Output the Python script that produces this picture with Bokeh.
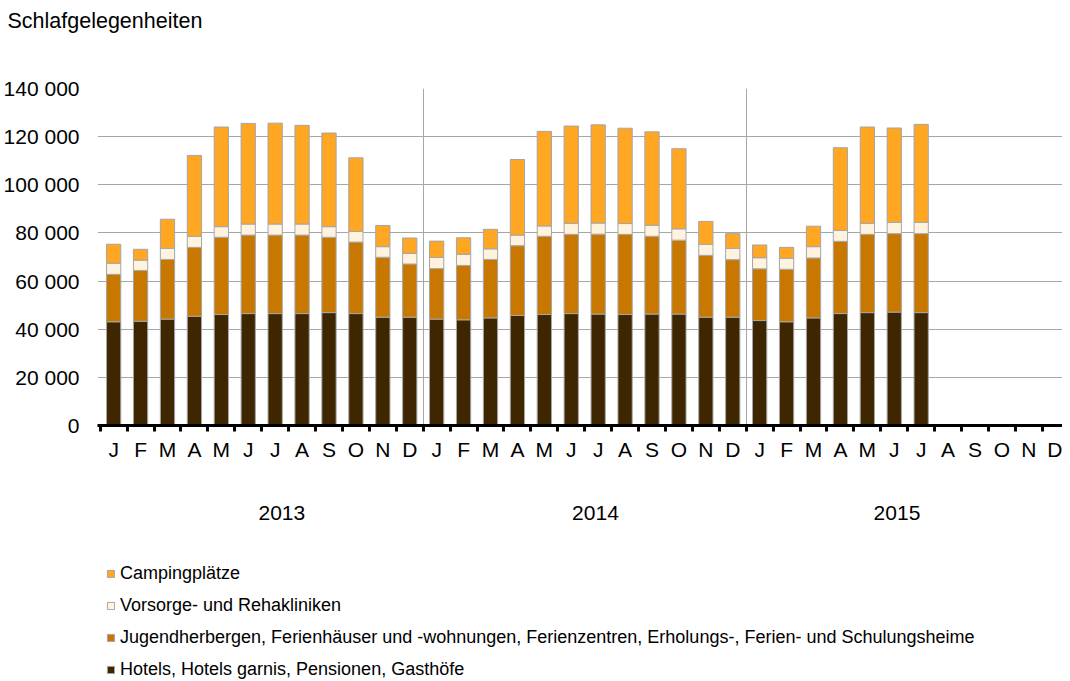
from bokeh.plotting import figure
from bokeh.layouts import column
from bokeh.models import (ColumnDataSource, Range1d, FixedTicker, LinearAxis,
                          Legend, LegendItem)
from bokeh.embed import file_html
from bokeh.resources import INLINE

# ---------------- data ----------------
months = ["J", "F", "M", "A", "M", "J", "J", "A", "S", "O", "N", "D"]
years = ["2013", "2014", "2015"]

hotels = [43100, 43300, 44200, 45400, 46100, 46500, 46500, 46500, 46900, 46500, 45000, 45000,
          44200, 43900, 44700, 45700, 46100, 46500, 46300, 46100, 46300, 46300, 45000, 45000,
          43600, 43100, 44700, 46500, 46900, 47100, 46900]
jugend = [19700, 21100, 24800, 28600, 32100, 32600, 32600, 32600, 31300, 29700, 24900, 22100,
          21000, 22600, 24300, 29000, 32500, 32900, 33200, 33300, 32300, 30700, 25700, 23900,
          21500, 21800, 24900, 30000, 32500, 32600, 32800]
vorsorge = [4600, 4300, 4600, 4600, 4400, 4600, 4600, 4600, 4400, 4400, 4400, 4400,
            4600, 4600, 4400, 4400, 4300, 4600, 4600, 4500, 4600, 4700, 4500, 4700,
            4600, 4600, 4700, 4500, 4600, 4700, 4700]
camping = [7900, 4500, 12100, 33600, 41400, 41800, 41900, 41000, 38900, 30600, 8800, 6400,
           6800, 6900, 8100, 31400, 39300, 40400, 40800, 39600, 38800, 33300, 9600, 6100,
           5300, 4500, 8500, 34400, 40000, 39200, 40700]

series_keys = ["hotels", "jugend", "vorsorge", "camping"]
series_names = ["Hotels, Hotels garnis, Pensionen, Gasthöfe",
                "Jugendherbergen, Ferienhäuser und -wohnungen, Ferienzentren, Erholungs-, Ferien- und Schulungsheime",
                "Vorsorge- und Rehakliniken",
                "Campingplätze"]
series_colors = ["#3e2600", "#c87800", "#fff3e0", "#ffa622"]

y_ticks = [0, 20000, 40000, 60000, 80000, 100000, 120000, 140000]
y_tick_labels = ["0", "20 000", "40 000", "60 000", "80 000", "100 000", "120 000", "140 000"]

title_text = "Schlafgelegenheiten"

FONT = "Liberation Sans"

# ---------------- title strip ----------------
p0 = figure(width=1062, height=44, x_range=Range1d(0, 1), y_range=Range1d(0, 1),
            output_backend="svg", toolbar_location=None,
            x_axis_location=None, y_axis_location=None,
            min_border_left=90, min_border_right=0, min_border_top=38, min_border_bottom=0)
p0.outline_line_color = None
p0.grid.visible = False
p0.title.text = title_text
p0.title.align = "left"
p0.title.offset = -90
p0.title.standoff = 12
p0.title.text_font = FONT
p0.title.text_font_size = "21.5px"
p0.title.text_font_style = "normal"
p0.title.text_color = "black"

# ---------------- main figure ----------------
n_months = len(months)
n_slots = n_months * len(years)
xs = list(range(len(hotels)))
source = ColumnDataSource(dict(x=xs, hotels=hotels, jugend=jugend,
                               vorsorge=vorsorge, camping=camping))

p = figure(width=1062, height=496,
           x_range=Range1d(-0.6, 35.25), y_range=Range1d(0, 140000),
           output_backend="svg", toolbar_location=None,
           min_border_left=90, min_border_top=44, min_border_right=0, min_border_bottom=115)
p.outline_line_color = None
p.background_fill_color = "white"

renderers = p.vbar_stack(series_keys, x="x", width=0.53, source=source,
                         fill_color=series_colors, line_color="#a6a6a6", line_width=1)

# grids
p.ygrid.ticker = FixedTicker(ticks=y_ticks)
p.ygrid.grid_line_color = "#a6a6a6"
p.ygrid.grid_line_width = 1
p.xgrid.ticker = FixedTicker(ticks=[n_months * k - 0.5 for k in range(1, len(years))])
p.xgrid.grid_line_color = "#a6a6a6"
p.xgrid.grid_line_width = 1

# y axis
ya = p.yaxis[0]
ya.ticker = FixedTicker(ticks=y_ticks)
ya.major_label_overrides = dict(zip(y_ticks, y_tick_labels))
ya.axis_line_color = None
ya.major_tick_line_color = None
ya.minor_tick_line_color = None
ya.major_label_text_font = FONT
ya.major_label_text_font_size = "21px"
ya.major_label_text_color = "black"
ya.major_label_standoff = 12

# month axis
xa = p.xaxis[0]
xa.ticker = FixedTicker(ticks=list(range(n_slots)),
                        minor_ticks=[i - 0.5 for i in range(n_slots + 1)])
xa.major_label_overrides = {i: months[i % n_months] for i in range(n_slots)}
xa.axis_line_color = "black"
xa.axis_line_width = 3
xa.major_tick_line_color = None
xa.major_tick_out = 0
xa.major_tick_in = 0
xa.minor_tick_line_color = "black"
xa.minor_tick_line_width = 3
xa.minor_tick_out = 6
xa.minor_tick_in = 0
xa.major_label_text_font = FONT
xa.major_label_text_font_size = "21px"
xa.major_label_text_color = "black"
xa.major_label_standoff = 6

# year axis (labels placed under each year block as in the original)
year_pos = [6.25, 17.9, 29.1]
year_axis = LinearAxis(ticker=FixedTicker(ticks=year_pos),
                       major_label_overrides=dict(zip(year_pos, years)),
                       axis_line_color=None, major_tick_line_color=None,
                       minor_tick_line_color=None,
                       major_label_text_font=FONT, major_label_text_font_size="21px",
                       major_label_text_color="black", major_label_standoff=36)
p.add_layout(year_axis, "below")

# ---------------- legend strip ----------------
# the same bars, kept far out of view, only feed the legend glyphs
p2 = figure(width=1062, height=141, x_range=Range1d(-20, -19), y_range=Range1d(-2, -1),
            output_backend="svg", toolbar_location=None,
            x_axis_location=None, y_axis_location=None, min_border=0)
p2.outline_line_color = None
p2.grid.visible = False
leg_renderers = p2.vbar_stack(series_keys, x="x", width=0.5, source=source,
                              fill_color=series_colors, line_color="#a6a6a6", line_width=1)
items = [LegendItem(label=name, renderers=[r])
         for name, r in reversed(list(zip(series_names, leg_renderers)))]
legend = Legend(items=items, location=(9, 1), orientation="vertical",
                border_line_color=None, background_fill_alpha=0,
                glyph_width=9, glyph_height=9, label_standoff=5,
                label_text_font=FONT, label_text_font_size="18px",
                label_text_color="black", label_height=20, spacing=11,
                padding=0, margin=0)
p2.add_layout(legend)

layout = column(p0, p, p2, spacing=0)
open("out.html", "w").write(file_html(layout, INLINE))
